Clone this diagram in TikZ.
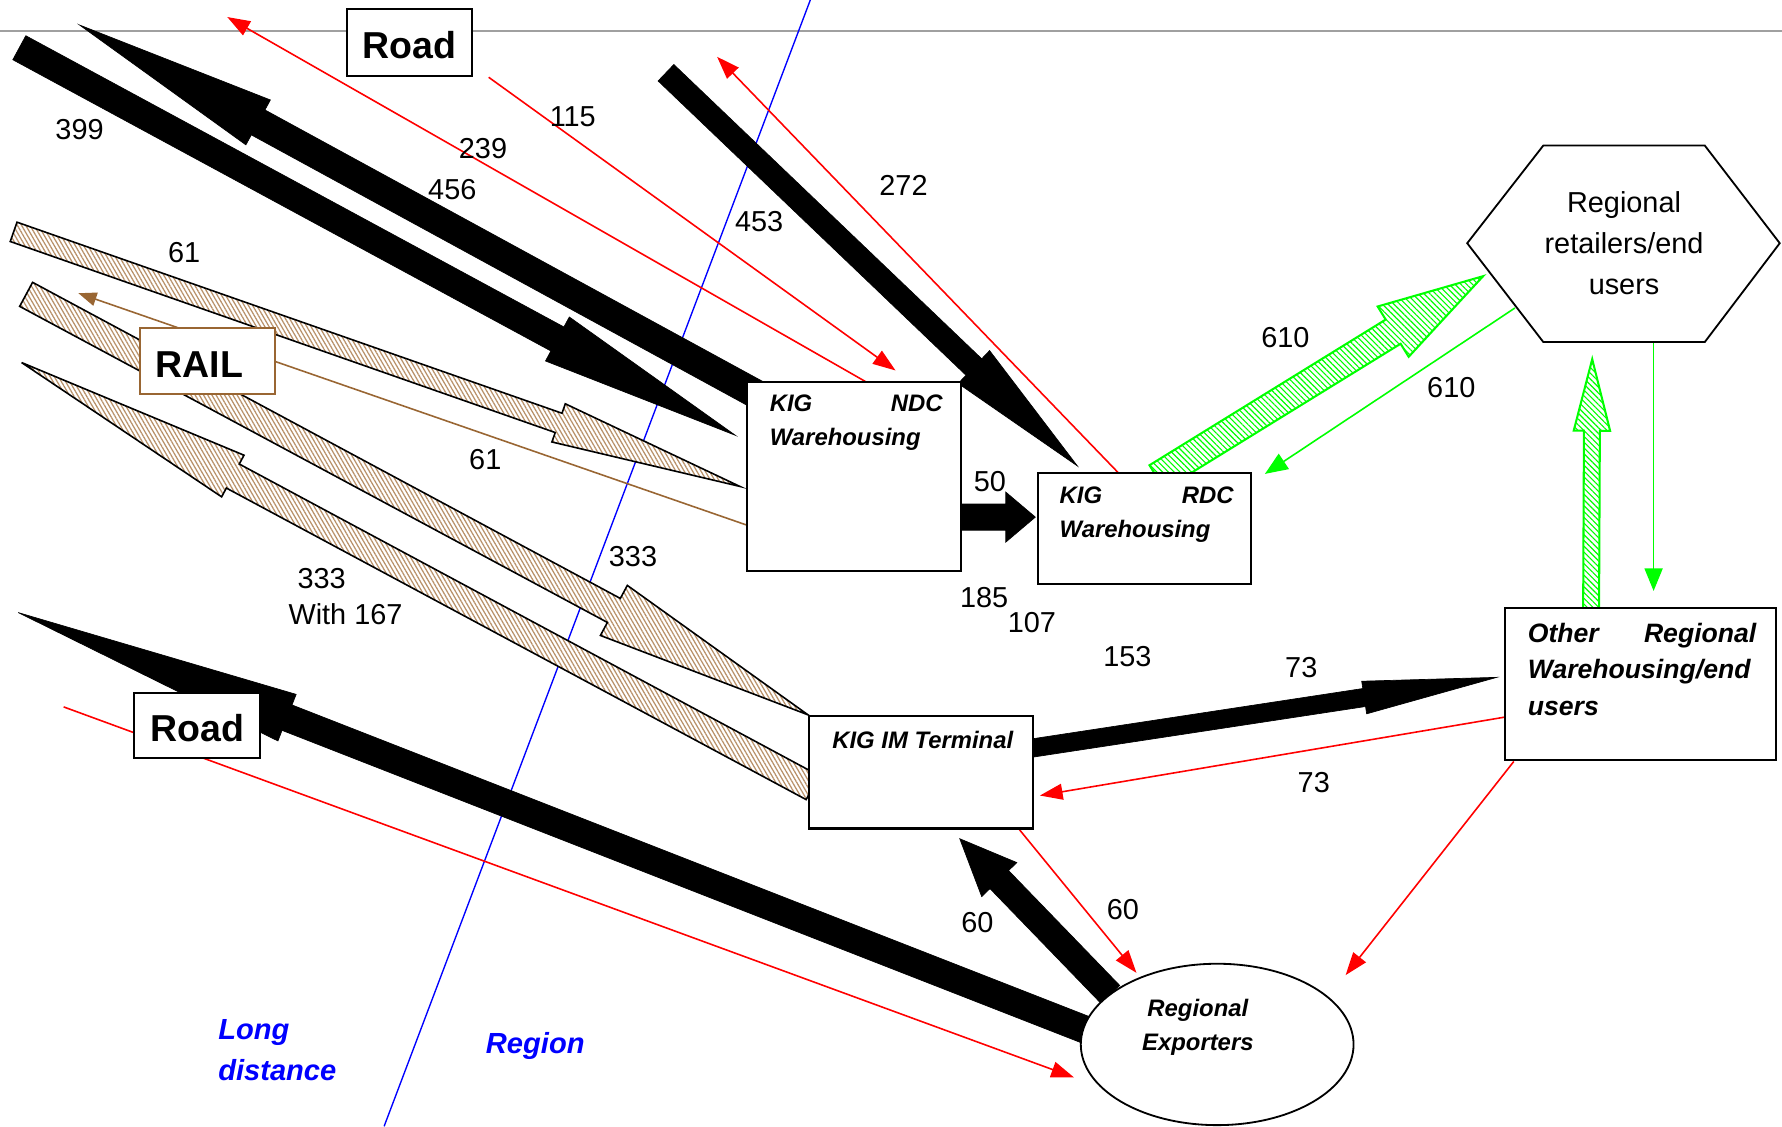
\documentclass[tikz,border=0pt]{standalone}
\usepackage{fontspec}
\setmainfont{Liberation Sans}
\usetikzlibrary{arrows.meta, calc, patterns.meta, shapes.geometric, backgrounds}

\definecolor{railbrown}{RGB}{185,145,105}
\definecolor{railline}{RGB}{153,102,51}
\definecolor{topline}{RGB}{160,160,160}

% block arrow: style, tail, tip, half shaft, half head, head length
\newcommand{\fatarrow}[6]{%
  \coordinate (fa-base) at ($(#3)!#6!(#2)$);
  \path[#1] ($(#2)!#4!90:(#3)$) -- ($(fa-base)!#4!90:(#3)$) -- ($(fa-base)!#5!90:(#3)$)
    -- (#3) -- ($(fa-base)!#5!-90:(#3)$) -- ($(fa-base)!#4!-90:(#3)$)
    -- ($(#2)!#4!-90:(#3)$) -- cycle;
}

\begin{document}
\begin{tikzpicture}[x=0.5pt, y=-0.5pt,
  box/.style={draw, fill=white, line width=0.9pt, inner sep=0pt, outer sep=0pt, anchor=north west},
  boxtext/.style={anchor=north west, inner sep=0pt, align=left, font=\bfseries\itshape\fontsize{10.5}{15}\selectfont},
  mode/.style={box, text height=14pt, font=\bfseries\fontsize{16.5}{18}\selectfont},
  num/.style={font=\fontsize{12.7}{15.5}\selectfont},
  zone/.style={text=blue, align=left, font=\bfseries\itshape\fontsize{12.8}{18}\selectfont},
  road/.style={fill=black, draw=black, line width=0.3pt},
  rail/.style={draw=black, line width=0.7pt, preaction={fill=white}, pattern={Lines[angle=-60,distance=1.6pt,line width=0.55pt]}, pattern color=railbrown},
  local/.style={draw=green, line width=0.9pt, preaction={fill=white}, pattern={Lines[angle=-45,distance=1.8pt,line width=0.5pt]}, pattern color=green},
  redflow/.style={red, line width=0.7pt, -{Triangle[length=10pt,width=7pt]}},
  greenflow/.style={green, line width=0.7pt, -{Triangle[length=10pt,width=8pt]}},
  brownflow/.style={railline, line width=0.7pt, -{Triangle[length=8pt,width=6pt]}}]
\useasboundingbox (0,0) rectangle (1568,991);

% places
\node[box, minimum width=94.5pt, minimum height=83pt] (ndc) at (657,336) {};
\node[box, minimum width=94pt, minimum height=49pt] (rdc) at (913,416) {};
\node[box, minimum width=98.5pt, minimum height=49.5pt] (im) at (712,630) {};
\node[box, minimum width=119.5pt, minimum height=67pt] (other) at (1324,535) {};
\node[ellipse, draw, fill=white, line width=0.8pt, minimum width=120pt, minimum height=71pt, inner sep=0pt] (exp) at (1071,919) {};
\node[font=\fontsize{12.7}{18}\selectfont, align=center] (retail) at (1429,214) {Regional\\retailers/end\\users};
\draw[line width=0.8pt] ($(retail)+(-138,0)$) -- ++(67,-86) -- ++(142,0) -- ++(66,86) -- ++(-66,87) -- ++(-142,0) -- cycle;

\node[boxtext, text width=76pt] (ndc-t) at ($(ndc.north west)+(20,11)$) {KIG\hfill NDC\\Warehousing};
\node[boxtext, text width=76.5pt] (rdc-t) at ($(rdc.north west)+(19,12)$) {KIG\hfill RDC\\Warehousing};
\node[boxtext] (im-t) at ($(im.north west)+(20,13)$) {KIG IM Terminal};
\node[boxtext, text width=100.5pt, font=\bfseries\itshape\fontsize{11.7}{16}\selectfont] (other-t) at ($(other.north west)+(20,13)$) {Other\hfill Regional\\Warehousing/end\\users};
\node[font=\bfseries\itshape\fontsize{10.5}{15}\selectfont, align=center] (exp-t) at (1054,904) {Regional\\Exporters};

% modes
\node[mode, minimum width=55pt, minimum height=29.5pt] (road1) at (305,8) {Road};
\node[mode, draw=railline, minimum width=59.5pt, minimum height=29pt] (rail) at (123,289) {RAIL\hspace*{7pt}};
\node[mode, minimum width=55.5pt, minimum height=28.5pt] (road2) at (118,610) {Road};

\node[zone] (ld) at (244,924) {Long\\distance};
\node[zone] (reg) at (471,920) {Region};

% volumes
\node[num] (n399) at (70,114) {399};
\node[num] (n456) at (398,167) {456};
\node[num] (n239) at (425,131) {239};
\node[num] (n115) at (504,103) {115};
\node[num] (n453) at (668,195) {453};
\node[num] (n272) at (795,163) {272};
\node[num] (n61a) at (162,222) {61};
\node[num] (n61b) at (427,404) {61};
\node[num] (n333a) at (557,490) {333};
\node[num, align=left] (n333b) at (304,525) {\hspace*{4pt}333\\With 167};
\node[num] (n50) at (871,424) {50};
\node[num] (n185) at (866,526) {185};
\node[num] (n107) at (908,548) {107};
\node[num] (n153) at (992,578) {153};
\node[num] (n73a) at (1145,587) {73};
\node[num] (n73b) at (1156,689) {73};
\node[num] (n60a) at (860,812) {60};
\node[num] (n60b) at (988,800) {60};
\node[num] (n610a) at (1131,297) {610};
\node[num] (n610b) at (1277,341) {610};

\begin{pgfonlayer}{background}
\draw[topline, line width=1pt] (0,27) -- (1568,27);
\draw[blue, line width=0.6pt] (713,0) -- (338,991);

\coordinate (a399s) at (17,42);
\coordinate (a399e) at (647,383);
\coordinate (a456s) at ($(ndc.north west)+(18,16)$);
\coordinate (a456e) at (70,22);
\coordinate (a453s) at (586,64);
\coordinate (a453e) at ($(rdc.north west)+(35,-6)$);
\coordinate (a50s) at ($(ndc.north east)+(-2,119)$);
\coordinate (a50e) at ($(rdc.north west)+(-2,39)$);
\coordinate (a73s) at ($(im.north east)+(-6,29)$);
\coordinate (a73e) at ($(other.north west)+(-7,61)$);
\coordinate (a60s) at ($(exp)+(-94,-44)$);
\coordinate (a60e) at ($(im.south)+(34,9)$);
\coordinate (aLs) at ($(exp)+(-111,-11)$);
\coordinate (aLe) at (16,539);
\coordinate (r61s) at (12,204);
\coordinate (r61e) at ($(ndc.north west)+(-6,92)$);
\coordinate (r333s) at (23,259);
\coordinate (r333e) at ($(im.north west)+(-1,-1)$);
\coordinate (r167s) at ($(im.north west)+(3,63)$);
\coordinate (r167e) at (19,319);
\coordinate (g610s) at ($(rdc.north west)+(105,4)$);
\coordinate (g610e) at (1305,243);
\coordinate (gups) at ($(other.north west)+(76,5)$);
\coordinate (gupe) at (1401,316);

\fatarrow{road}{a399s}{a399e}{6pt}{11pt}{89pt}
\fatarrow{road}{a456s}{a456e}{6.25pt}{11.25pt}{89.5pt}
\fatarrow{road}{a453s}{a453e}{5pt}{10pt}{63pt}
\fatarrow{road}{a50s}{a50e}{5.75pt}{11pt}{13pt}
\fatarrow{road}{a73s}{a73e}{4pt}{7.25pt}{59pt}
\fatarrow{road}{a60s}{a60e}{5.7pt}{10.75pt}{25pt}
\fatarrow{road}{aLs}{aLe}{6pt}{11pt}{127pt}
\fatarrow{rail}{r61s}{r61e}{4.5pt}{8.9pt}{84.5pt}
\fatarrow{rail}{r333s}{r333e}{6pt}{12.5pt}{97pt}
\fatarrow{rail}{r167s}{r167e}{6pt}{10.4pt}{105.5pt}
\fatarrow{local}{g610s}{g610e}{6.25pt}{13pt}{46.5pt}
\fatarrow{local}{gups}{gupe}{3.5pt}{8pt}{31.5pt}

\coordinate (f115s) at (430,68);
\coordinate (f115e) at ($(ndc.north west)+(131,-10)$);
\coordinate (f239s) at ($(ndc.north west)+(105,0)$);
\coordinate (f239e) at (200,15);
\coordinate (f272s) at ($(rdc.north west)+(71,0)$);
\coordinate (f272e) at (631,50);
\coordinate (f73s) at ($(other.north west)+(0,96)$);
\coordinate (f73e) at ($(im.north east)+(6,70)$);
\coordinate (f60s) at ($(im.south east)+(-12,1)$);
\coordinate (f60e) at ($(exp)+(-71,-63)$);
\coordinate (fOs) at ($(other.south west)+(8,1)$);
\coordinate (fOe) at ($(exp)+(113,-61)$);
\coordinate (fLs) at (56,622);
\coordinate (fLe) at ($(exp)+(-126,29)$);
\coordinate (b61s) at ($(ndc.north west)+(0,126)$);
\coordinate (b61e) at (69,258);
\coordinate (g610bs) at ($(retail)+(-96,57)$);
\coordinate (g610be) at ($(rdc.north east)+(12,1)$);
\coordinate (gdns) at ($(retail)+(26,87)$);
\coordinate (gdne) at ($(other.north west)+(131,-15)$);

\draw[redflow] (f115s) -- (f115e);
\draw[redflow] (f239s) -- (f239e);
\draw[redflow] (f272s) -- (f272e);
\draw[redflow] (f73s) -- (f73e);
\draw[redflow] (f60s) -- (f60e);
\draw[redflow] (fOs) -- (fOe);
\draw[redflow] (fLs) -- (fLe);
\draw[brownflow] (b61s) -- (b61e);
\draw[greenflow] (g610bs) -- (g610be);
\draw[greenflow] (gdns) -- (gdne);
\end{pgfonlayer}
\end{tikzpicture}
\end{document}
